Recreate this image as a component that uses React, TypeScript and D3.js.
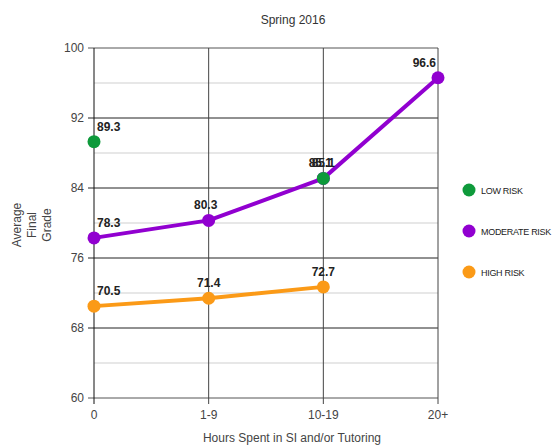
import React from "react";
import * as d3 from "d3";

const categories = ["0", "1-9", "10-19", "20+"];
const lowRisk: (number | null)[] = [89.3, null, 85.1, null];
const moderateRisk: (number | null)[] = [78.3, 80.3, 85.1, 96.6];
const highRisk: (number | null)[] = [70.5, 71.4, 72.7, null];
const majorTicks = [60, 68, 76, 84, 92, 100];
const minorTicks = [64, 72, 80, 88, 96];
const seriesNames = ["LOW RISK", "MODERATE RISK", "HIGH RISK"];

const W = 554;
const H = 445;
const FONT = "Arial, 'Liberation Sans', sans-serif";

export default function App() {
  const x = d3.scalePoint<string>().domain(categories).range([94, 438]);
  const y = d3.scaleLinear().domain([60, 100]).range([398, 48]);

  const series = [
    { name: seriesNames[1], data: moderateRisk, color: "#9100d0", dx: -3 },
    { name: seriesNames[2], data: highRisk, color: "#fb9a17", dx: 0 },
    { name: seriesNames[0], data: lowRisk, color: "#0e9a3b", dx: 0 },
  ];
  const legend = [
    { name: seriesNames[0], color: "#0e9a3b" },
    { name: seriesNames[1], color: "#9100d0" },
    { name: seriesNames[2], color: "#fb9a17" },
  ];

  const line = d3
    .line<number | null>()
    .defined((d) => d !== null)
    .x((_, i) => x(categories[i]) as number)
    .y((d) => y(d as number));

  const labelProps = (i: number) => {
    const cx = x(categories[i]) as number;
    if (i === 0) return { x: cx + 3, anchor: "start", mid: false };
    if (i === categories.length - 1) return { x: cx - 2, anchor: "end", mid: false };
    return { x: cx, anchor: "middle", mid: true };
  };

  const [x0, x1] = x.range();

  return (
    <svg
      width={W}
      height={H}
      style={{ position: "absolute", left: 0, top: 0, background: "#fff" }}
      fontFamily={FONT}
    >
      <rect width={W} height={H} fill="#fff" />
      <text x={293} y={24} textAnchor="middle" fontSize={12} fill="#333">
        Spring 2016
      </text>

      {minorTicks.map((t) => (
        <line key={"m" + t} x1={x0} x2={x1} y1={y(t)} y2={y(t)} stroke="#cfcfcf" strokeWidth={1} />
      ))}
      {majorTicks.map((t) => (
        <g key={"M" + t}>
          <line x1={x0 - 6} x2={x1} y1={y(t)} y2={y(t)} stroke={t === 60 || t === 100 ? "#555" : "#222"} strokeWidth={1} />
          <text x={84} y={y(t) + 4} textAnchor="end" fontSize={12} fill="#444">
            {t}
          </text>
        </g>
      ))}
      {categories.map((c) => (
        <g key={"v" + c}>
          <line x1={x(c)} x2={x(c)} y1={y(100)} y2={y(60) + 6} stroke={c === "0" ? "#111" : "#444"} strokeWidth={1} />
          <text x={x(c)} y={419} textAnchor="middle" fontSize={12} fill="#444">
            {c}
          </text>
        </g>
      ))}

      {series.map((s) => (
        <path key={"l" + s.name} d={line(s.data) || ""} fill="none" stroke={s.color} strokeWidth={4} strokeLinejoin="round" />
      ))}
      {series.map((s) =>
        s.data.map((d, i) =>
          d === null ? null : (
            <circle key={s.name + i} cx={x(categories[i])} cy={y(d)} r={6.5} fill={s.color} />
          )
        )
      )}
      {series.map((s) =>
        s.data.map((d, i) => {
          if (d === null) return null;
          const p = labelProps(i);
          return (
            <text
              key={"a" + s.name + i}
              x={p.x + (p.mid ? s.dx : 0)}
              y={y(d) - 11}
              textAnchor={p.anchor}
              fontSize={12}
              fontWeight="bold"
              fill="#222"
            >
              {d.toFixed(1)}
            </text>
          );
        })
      )}

      <text x={292} y={442} textAnchor="middle" fontSize={12} fill="#444">
        Hours Spent in SI and/or Tutoring
      </text>
      {["Average", "Final", "Grade"].map((t, i) => (
        <text
          key={t}
          transform={`translate(${21 + i * 15},225) rotate(-90)`}
          textAnchor="middle"
          fontSize={12}
          fill="#444"
        >
          {t}
        </text>
      ))}

      {legend.map((l, i) => (
        <g key={"lg" + l.name} transform={`translate(469,${190 + i * 41})`}>
          <circle r={6.5} fill={l.color} />
          <text x={12} y={3.5} fontSize={9} fill="#222" letterSpacing={-0.3}>
            {l.name}
          </text>
        </g>
      ))}
    </svg>
  );
}
